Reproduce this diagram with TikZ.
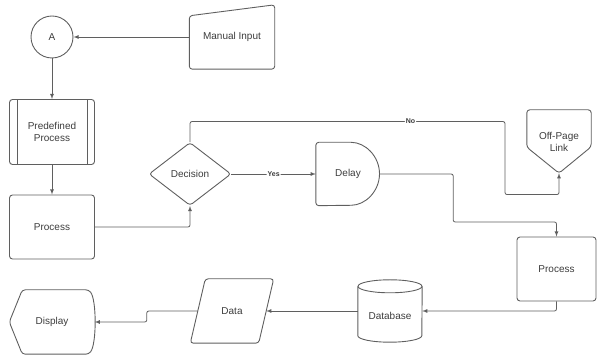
\documentclass[tikz,border=0pt]{standalone}
\usepackage{fontspec}
\setmainfont{Liberation Sans}
\usepackage{tikz}
\usetikzlibrary{shapes,arrows,calc}
\definecolor{lineGray}{RGB}{95,95,95}
\definecolor{textGray}{RGB}{60,60,60}

\tikzset{
  shapebox/.style={minimum width=85pt, minimum height=64pt, inner sep=2pt, align=center, text=textGray},
  outline/.style={draw=lineGray, line width=0.9pt, rounded corners=3pt},
  arr/.style={-latex, draw=lineGray, line width=0.8pt, rounded corners=2pt},
  lbl/.style={fill=white, inner sep=1pt, font=\scriptsize\bfseries, text=textGray},
}

\begin{document}
\begin{tikzpicture}[x=1pt,y=1pt]
\useasboundingbox (0,0) rectangle (597,358);
% left column
\node[circle, draw=lineGray, line width=0.9pt, minimum size=42pt, text=textGray] (A) at (52,321) {A};
\node[shapebox, outline, minimum height=65pt] (pre) at (52,226) {Predefined\\Process};
\draw[draw=lineGray, line width=0.9pt] ($(pre.north west)+(8,0)$) -- ($(pre.south west)+(8,0)$);
\draw[draw=lineGray, line width=0.9pt] ($(pre.north east)+(-8,0)$) -- ($(pre.south east)+(-8,0)$);
\node[shapebox, outline] (proc1) at (52,131) {Process};
\node[shapebox] (disp) at (52,36) {Display};
\draw[outline] (disp.west) -- ($(disp.north west)+(13,0)$) -- ($(disp.north east)+(-6,0)$)
  .. controls +(8,-10) and +(8,10) .. ($(disp.south east)+(-6,0)$) -- ($(disp.south west)+(13,0)$) -- cycle;
% manual input
\node[shapebox] (manual) at (232,321) {Manual Input};
\draw[outline] (manual.south west) -- ($(manual.north west)+(0,-11)$) -- (manual.north east) -- (manual.south east) -- cycle;
% middle row
\node[diamond, outline, minimum width=82pt, minimum height=63pt, inner sep=0pt, text=textGray] (dec) at (190,184) {Decision};
\node[shapebox, minimum width=64pt, minimum height=63pt] (delay) at (348,184) {Delay};
\draw[outline] (delay.south west) -- (delay.north west) -- (delay.north) arc[start angle=90, end angle=-90, radius=31.5pt] -- cycle;
\node[shapebox, minimum width=64pt, minimum height=63pt] (off) at (559,216.5) {Off-Page\\Link};
\draw[outline] (off.north west) -- (off.north east) -- ($(off.north east)+(0,-37)$) -- (off.south) -- ($(off.south west)+(0,26)$) -- cycle;
% bottom row
\node[shapebox, outline, minimum width=79pt] (proc2) at (556.5,89) {Process};
\node[shapebox, minimum width=64pt, minimum height=62pt, label={[text=textGray, yshift=-5pt]center:Database}] (db) at (390,47) {};
\draw[draw=lineGray, line width=0.9pt] ($(db.north)+(0,-6.5)$) ellipse[x radius=32pt, y radius=6.5pt];
\draw[draw=lineGray, line width=0.9pt] ($(db.north west)+(0,-6.5)$) -- ($(db.south west)+(0,6.5)$)
  arc[start angle=180, end angle=360, x radius=32pt, y radius=6.5pt] -- ($(db.north east)+(0,-6.5)$);
\node[shapebox, minimum width=83pt] (data) at (232,47) {Data};
\draw[outline] (data.south west) -- ($(data.north west)+(15,0)$) -- (data.north east) -- ($(data.south east)+(-15,0)$) -- cycle;
% connectors
\draw[arr] (manual.west) -- (A.east);
\draw[arr] (A.south) -- (pre.north);
\draw[arr] (pre.south) -- (proc1.north);
\draw[arr] (proc1.east) -| (dec.south);
\draw[arr] (dec.east) -- node[lbl]{Yes} (delay.west);
\draw[arr] (dec.north) -- ++(0,20.5) -- node[lbl, pos=0.7]{No} ++(315,0) -- ++(0,-73) -| (off.south);
\draw[arr] (delay.east) -- ++(73,0) -- ++(0,-48) -| (proc2.north);
\draw[arr] (proc2.south) |- (db.east);
\draw[arr] (db.west) -- ($(data.east)+(-7.5,0)$);
\draw[arr] ($(data.west)+(7.5,0)$) -- ++(-51,0) |- (disp.east);
\end{tikzpicture}
\end{document}
